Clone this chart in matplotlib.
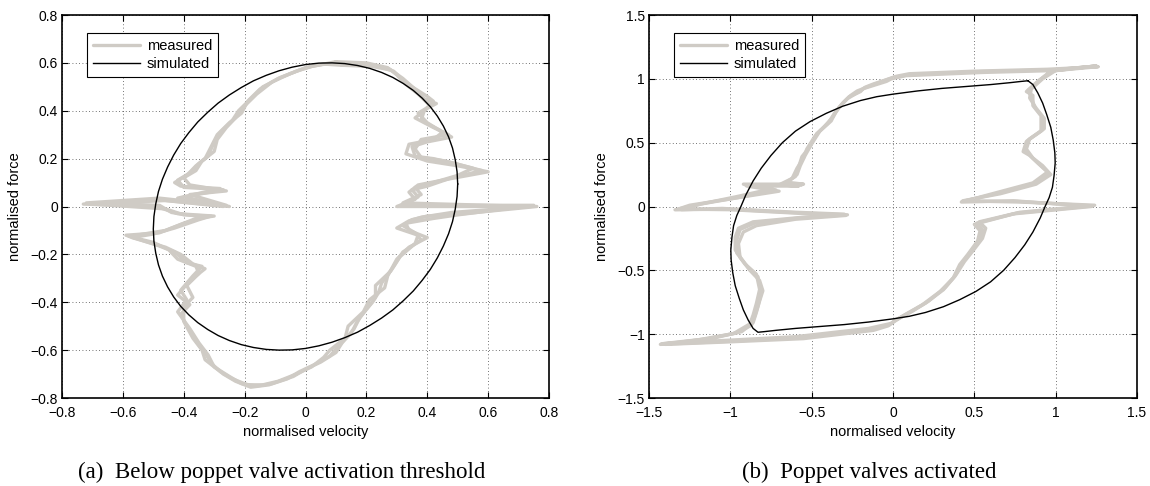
import matplotlib
matplotlib.use("Agg")
import matplotlib.pyplot as plt

# ---------------- data: panel (a) ----------------
# measured, cycle 1
a_meas_x = [0.11, 0.23, 0.29, 0.31, 0.35, 0.40, 0.42, 0.39, 0.38, 0.44, 0.48, 0.40, 0.35, 0.36, 0.42,
            0.49, 0.58, 0.48, 0.40, 0.35, 0.37, 0.33, 0.30, 0.76, 0.52, 0.40, 0.35, 0.32, 0.36, 0.38,
            0.32, 0.29, 0.25, 0.24, 0.22, 0.18, 0.16, 0.12, 0.10, 0.05, 0.0, -0.04, -0.11, -0.16, -0.21,
            -0.25, -0.30, -0.32, -0.35, -0.38, -0.42, -0.39, -0.41, -0.37, -0.34, -0.39, -0.43, -0.48,
            -0.59, -0.48, -0.42, -0.36, -0.30, -0.42, -0.49, -0.73, -0.50, -0.25, -0.40, -0.27, -0.40,
            -0.42, -0.38, -0.35, -0.32, -0.30, -0.28, -0.24, -0.22, -0.18, -0.14, -0.08, -0.02, 0.03, 0.11]
a_meas_y = [0.60, 0.59, 0.565, 0.54, 0.50, 0.46, 0.44, 0.40, 0.36, 0.32, 0.29, 0.27, 0.25, 0.21, 0.20,
            0.18, 0.15, 0.12, 0.085, 0.07, 0.04, 0.01, 0.0, 0.0, -0.03, -0.04, -0.055, -0.08, -0.11, -0.14,
            -0.19, -0.25, -0.32, -0.36, -0.40, -0.46, -0.51, -0.57, -0.61, -0.65, -0.68, -0.71, -0.74, -0.75,
            -0.74, -0.71, -0.67, -0.62, -0.57, -0.51, -0.44, -0.39, -0.35, -0.29, -0.25, -0.235, -0.19,
            -0.165, -0.12, -0.11, -0.08, -0.05, -0.04, -0.03, 0.0, 0.01, 0.03, 0.0, 0.04, 0.07, 0.08,
            0.11, 0.14, 0.18, 0.21, 0.27, 0.31, 0.36, 0.40, 0.45, 0.50, 0.54, 0.57, 0.59, 0.60]
# measured, cycle 2
a_meas2_x = [0.12, 0.22, 0.28, 0.30, 0.33, 0.37, 0.41, 0.37, 0.40, 0.45, 0.42, 0.34, 0.33, 0.40, 0.50,
             0.60, 0.45, 0.37, 0.34, 0.36, 0.31, 0.75, 0.50, 0.42, 0.33, 0.34, 0.40, 0.34, 0.30, 0.27,
             0.26, 0.21, 0.19, 0.14, 0.13, 0.08, 0.06, 0.02, -0.03, -0.09, -0.14, -0.19, -0.24, -0.28,
             -0.33, -0.34, -0.37, -0.40, -0.40, -0.37, -0.39, -0.35, -0.36, -0.42, -0.45, -0.50, -0.58,
             -0.46, -0.40, -0.33, -0.44, -0.48, -0.72, -0.48, -0.26, -0.38, -0.26, -0.38, -0.40, -0.36,
             -0.34, -0.30, -0.29, -0.26, -0.23, -0.20, -0.16, -0.11, -0.05, 0.0, 0.06, 0.12]
a_meas2_y = [0.59, 0.585, 0.57, 0.55, 0.51, 0.47, 0.42, 0.39, 0.35, 0.31, 0.28, 0.26, 0.22, 0.19, 0.17,
             0.145, 0.11, 0.09, 0.06, 0.03, 0.005, 0.005, -0.035, -0.05, -0.07, -0.10, -0.13, -0.17,
             -0.22, -0.29, -0.34, -0.39, -0.44, -0.50, -0.55, -0.60, -0.63, -0.67, -0.70, -0.73, -0.745,
             -0.745, -0.72, -0.69, -0.64, -0.60, -0.55, -0.48, -0.42, -0.38, -0.33, -0.28, -0.25, -0.22,
             -0.18, -0.15, -0.125, -0.10, -0.07, -0.045, -0.025, 0.005, 0.015, 0.035, 0.005, 0.05, 0.065,
             0.09, 0.12, 0.15, 0.19, 0.23, 0.28, 0.33, 0.37, 0.42, 0.47, 0.52, 0.555, 0.58, 0.595, 0.59]
# measured, cycle 3 (velocity, force) pairs
a_meas3 = [(0.10, 0.605), (0.20, 0.60), (0.27, 0.58), (0.32, 0.535), (0.36, 0.49), (0.39, 0.45),
           (0.43, 0.43), (0.40, 0.41), (0.36, 0.37), (0.42, 0.33), (0.47, 0.30), (0.38, 0.28),
           (0.36, 0.24), (0.38, 0.205), (0.46, 0.19), (0.55, 0.16), (0.50, 0.13), (0.42, 0.10),
           (0.36, 0.08), (0.38, 0.05), (0.32, 0.015), (0.74, 0.0), (0.48, -0.025), (0.38, -0.045),
           (0.34, -0.06), (0.30, -0.09), (0.37, -0.12), (0.36, -0.155), (0.31, -0.21), (0.28, -0.27),
           (0.23, -0.33), (0.23, -0.38), (0.20, -0.43), (0.17, -0.48), (0.15, -0.53), (0.11, -0.58),
           (0.08, -0.625), (0.03, -0.66), (-0.02, -0.69), (-0.06, -0.72), (-0.12, -0.745),
           (-0.18, -0.755), (-0.23, -0.73), (-0.27, -0.70), (-0.31, -0.655), (-0.33, -0.61),
           (-0.36, -0.56), (-0.39, -0.50), (-0.41, -0.45), (-0.38, -0.41), (-0.42, -0.37),
           (-0.38, -0.31), (-0.33, -0.26), (-0.37, -0.24), (-0.41, -0.20), (-0.46, -0.17),
           (-0.57, -0.13), (-0.50, -0.115), (-0.43, -0.09), (-0.35, -0.055), (-0.31, -0.04),
           (-0.40, -0.035), (-0.46, -0.01), (-0.70, 0.01), (-0.46, 0.025), (-0.27, 0.0),
           (-0.42, 0.035), (-0.28, 0.075), (-0.41, 0.085), (-0.43, 0.10), (-0.39, 0.13),
           (-0.36, 0.17), (-0.33, 0.20), (-0.31, 0.25), (-0.29, 0.30), (-0.25, 0.35), (-0.21, 0.39),
           (-0.19, 0.44), (-0.15, 0.49), (-0.09, 0.535), (-0.03, 0.565), (0.02, 0.585), (0.10, 0.605)]

a_sim_x = [0.500, 0.498, 0.492, 0.483, 0.470, 0.453, 0.433, 0.410, 0.383, 0.354, 0.321, 0.287, 0.250,
           0.211, 0.171, 0.129, 0.087, 0.044, 0.000, -0.044, -0.087, -0.129, -0.171, -0.211, -0.250,
           -0.287, -0.321, -0.354, -0.383, -0.410, -0.433, -0.453, -0.470, -0.483, -0.492, -0.498,
           -0.500, -0.498, -0.492, -0.483, -0.470, -0.453, -0.433, -0.410, -0.383, -0.354, -0.321,
           -0.287, -0.250, -0.211, -0.171, -0.129, -0.087, -0.044, 0.000, 0.044, 0.087, 0.129, 0.171,
           0.211, 0.250, 0.287, 0.321, 0.354, 0.383, 0.410, 0.433, 0.453, 0.470, 0.483, 0.492, 0.498,
           0.500]
a_sim_y = [0.094, 0.145, 0.195, 0.244, 0.291, 0.336, 0.378, 0.417, 0.453, 0.485, 0.514, 0.539, 0.560,
           0.577, 0.589, 0.597, 0.600, 0.599, 0.593, 0.582, 0.567, 0.548, 0.525, 0.497, 0.466, 0.432,
           0.394, 0.353, 0.309, 0.263, 0.215, 0.165, 0.114, 0.063, 0.011, -0.042,
           -0.094, -0.145, -0.195, -0.244, -0.291, -0.336, -0.378, -0.417, -0.453, -0.485, -0.514,
           -0.539, -0.560, -0.577, -0.589, -0.597, -0.600, -0.599, -0.593, -0.582, -0.567, -0.548,
           -0.525, -0.497, -0.466, -0.432, -0.394, -0.353, -0.309, -0.263, -0.215, -0.165, -0.114,
           -0.063, -0.011, 0.042, 0.094]

# ---------------- data: panel (b) ----------------
b_meas_x = [1.25, 0.985, 0.54, 0.09, 0.0, -0.045, -0.13, -0.18, -0.20, -0.27, -0.31, -0.36, -0.40,
            -0.47, -0.51, -0.56, -0.58, -0.60, -0.67, -0.56, -0.91, -0.72, -0.95, -1.21, -1.34, -1.03,
            -0.58, -0.28, -0.58, -0.85, -0.94, -0.96, -0.96, -0.895, -0.83, -0.81, -0.83, -0.85, -0.87,
            -0.96, -1.16, -1.43, -1.03, -0.58, -0.134, -0.02, 0.02, 0.09, 0.20, 0.31, 0.38, 0.425, 0.47,
            0.537, 0.55, 0.515, 0.76, 1.23, 0.76, 0.425, 0.65, 0.87, 0.96, 0.90, 0.85, 0.81, 0.83, 0.92,
            0.92, 0.87, 0.85, 0.83, 0.90, 0.985, 1.25]
b_meas_y = [1.10, 1.07, 1.057, 1.03, 1.01, 0.99, 0.95, 0.926, 0.90, 0.86, 0.81, 0.73, 0.65, 0.57, 0.47,
            0.39, 0.31, 0.235, 0.18, 0.17, 0.17, 0.13, 0.07, 0.013, -0.026, -0.02, -0.05, -0.065, -0.09,
            -0.13, -0.18, -0.26, -0.365, -0.47, -0.55, -0.68, -0.78, -0.86, -0.93, -0.99, -1.04, -1.08,
            -1.057, -1.03, -0.965, -0.926, -0.887, -0.835, -0.757, -0.652, -0.548, -0.443, -0.365, -0.26,
            -0.18, -0.13, -0.052, 0.005, 0.04, 0.04, 0.104, 0.18, 0.26, 0.33, 0.39, 0.44, 0.52, 0.60, 0.70,
            0.78, 0.86, 0.91, 0.99, 1.07, 1.10]
b_meas2_x = [1.26, 0.95, 0.50, 0.10, 0.02, -0.06, -0.12, -0.17, -0.22, -0.28, -0.33, -0.37, -0.42,
             -0.48, -0.53, -0.55, -0.59, -0.62, -0.70, -0.58, -0.90, -0.70, -1.00, -1.25, -1.32, -1.00,
             -0.55, -0.29, -0.60, -0.84, -0.92, -0.95, -0.94, -0.88, -0.82, -0.80, -0.82, -0.84, -0.86,
             -0.93, -1.10, -1.42, -1.05, -0.60, -0.15, -0.01, 0.04, 0.12, 0.22, 0.32, 0.39, 0.44, 0.49,
             0.55, 0.57, 0.53, 0.78, 1.24, 0.78, 0.43, 0.66, 0.88, 0.97, 0.92, 0.86, 0.82, 0.84, 0.93,
             0.93, 0.88, 0.84, 0.85, 0.92, 1.00, 1.26]
b_meas2_y = [1.095, 1.075, 1.06, 1.04, 1.02, 0.985, 0.96, 0.935, 0.89, 0.845, 0.78, 0.70, 0.63, 0.55,
             0.45, 0.38, 0.30, 0.22, 0.17, 0.16, 0.16, 0.12, 0.06, 0.01, -0.02, -0.025, -0.055, -0.07,
             -0.10, -0.15, -0.20, -0.29, -0.40, -0.50, -0.58, -0.66, -0.74, -0.83, -0.91, -0.98, -1.03,
             -1.075, -1.05, -1.02, -0.955, -0.915, -0.875, -0.82, -0.74, -0.635, -0.53, -0.43, -0.35,
             -0.25, -0.17, -0.12, -0.045, 0.01, 0.035, 0.045, 0.10, 0.175, 0.25, 0.32, 0.38, 0.45, 0.53,
             0.61, 0.69, 0.77, 0.85, 0.92, 1.00, 1.065, 1.095]
b_meas3 = [(1.24, 1.10), (1.00, 1.065), (0.55, 1.05), (0.08, 1.025), (-0.01, 1.00), (-0.04, 0.98),
           (-0.14, 0.94), (-0.19, 0.92), (-0.22, 0.905), (-0.26, 0.87), (-0.30, 0.82), (-0.35, 0.745),
           (-0.38, 0.67), (-0.45, 0.59), (-0.50, 0.49), (-0.54, 0.40), (-0.57, 0.32), (-0.59, 0.25),
           (-0.65, 0.19), (-0.55, 0.175), (-0.92, 0.175), (-0.74, 0.14), (-0.97, 0.075), (-1.18, 0.02),
           (-1.30, -0.025), (-1.05, -0.015), (-0.60, -0.045), (-0.30, -0.06), (-0.56, -0.085),
           (-0.86, -0.12), (-0.95, -0.17), (-0.97, -0.24), (-0.97, -0.34), (-0.91, -0.45),
           (-0.84, -0.53), (-0.82, -0.65), (-0.84, -0.76), (-0.86, -0.85), (-0.88, -0.92),
           (-0.98, -0.995), (-1.20, -1.045), (-1.40, -1.08), (-1.00, -1.06), (-0.55, -1.035),
           (-0.12, -0.97), (-0.03, -0.935), (0.01, -0.895), (0.08, -0.845), (0.18, -0.77),
           (0.29, -0.665), (0.37, -0.56), (0.41, -0.455), (0.46, -0.375), (0.52, -0.27),
           (0.535, -0.19), (0.50, -0.14), (0.74, -0.058), (1.22, 0.0), (0.74, 0.045), (0.42, 0.035),
           (0.64, 0.11), (0.86, 0.185), (0.95, 0.27), (0.89, 0.34), (0.84, 0.40), (0.80, 0.43),
           (0.82, 0.51), (0.91, 0.59), (0.91, 0.71), (0.86, 0.79), (0.86, 0.87), (0.82, 0.90),
           (0.89, 0.98), (0.97, 1.06), (1.24, 1.10)]

b_sim_x = [0.83, 0.86, 0.89, 0.92, 0.945, 0.97, 0.985, 0.995, 0.997, 0.99, 0.98, 0.96, 0.935, 0.905,
           0.86, 0.81, 0.75, 0.68, 0.60, 0.51, 0.41, 0.31, 0.20, 0.10, 0.0, -0.15, -0.30, -0.45, -0.60,
           -0.72, -0.79,
           -0.83, -0.86, -0.89, -0.92, -0.945, -0.97, -0.985, -0.995, -0.997, -0.99, -0.98, -0.96, -0.935,
           -0.905, -0.86, -0.81, -0.75, -0.68, -0.60, -0.51, -0.41, -0.31, -0.20, -0.10, 0.0, 0.15, 0.30,
           0.45, 0.60, 0.72, 0.79, 0.83]
b_sim_y = [0.985, 0.955, 0.89, 0.81, 0.72, 0.62, 0.52, 0.42, 0.34, 0.24, 0.15, 0.07, 0.0, -0.09, -0.20,
           -0.30, -0.40, -0.50, -0.59, -0.665, -0.73, -0.785, -0.83, -0.86, -0.88, -0.905, -0.925, -0.94,
           -0.955, -0.97, -0.98,
           -0.985, -0.955, -0.89, -0.81, -0.72, -0.62, -0.52, -0.42, -0.34, -0.24, -0.15, -0.07, 0.0, 0.09,
           0.20, 0.30, 0.40, 0.50, 0.59, 0.665, 0.73, 0.785, 0.83, 0.86, 0.88, 0.905, 0.925, 0.94, 0.955,
           0.97, 0.98, 0.985]

a_ticks = [-0.8, -0.6, -0.4, -0.2, 0, 0.2, 0.4, 0.6, 0.8]
a_ticklabels = ["\u22120.8", "\u22120.6", "\u22120.4", "\u22120.2", "0", "0.2", "0.4", "0.6", "0.8"]
b_ticks = [-1.5, -1, -0.5, 0, 0.5, 1, 1.5]
b_ticklabels = ["\u22121.5", "\u22121", "\u22120.5", "0", "0.5", "1", "1.5"]

captions = ["(a)  Below poppet valve activation threshold", "(b)  Poppet valves activated"]

MEAS_COLOR = "#cfcbc5"
plt.rcParams["font.family"] = ["Liberation Sans", "DejaVu Sans"]
plt.rcParams["font.size"] = 10

fig = plt.figure(figsize=(11.5, 4.86), dpi=100)
W, H = 1150.0, 486.0
ax_a = fig.add_axes([62 / W, 1 - 398 / H, 487 / W, 383 / H])
ax_b = fig.add_axes([649 / W, 1 - 398 / H, 488 / W, 383 / H])


def style(ax, ticks, labels, lim):
    ax.set_xlim(lim)
    ax.set_ylim(lim)
    ax.set_xticks(ticks)
    ax.set_xticklabels(labels)
    ax.set_yticks(ticks)
    ax.set_yticklabels(labels)
    ax.tick_params(direction="in", length=4, width=0.8, top=True, right=True,
                   labelsize=10, colors="black")
    ax.tick_params(axis="x", pad=6)
    ax.tick_params(axis="y", pad=3)
    ax.grid(True, color="#444444", linestyle=(0, (1, 3)), linewidth=0.6)
    for s in ax.spines.values():
        s.set_linewidth(1.2)
    ax.set_xlabel("normalised velocity", fontsize=10.5, labelpad=3)
    ax.set_ylabel("normalised force", fontsize=10.5, labelpad=6)


MEAS_KW = dict(color=MEAS_COLOR, lw=2.4, solid_joinstyle="round", solid_capstyle="round")

ax_a.plot(a_meas_x, a_meas_y, label="measured", **MEAS_KW)
ax_a.plot(a_meas2_x, a_meas2_y, **MEAS_KW)
ax_a.plot([p[0] for p in a_meas3], [p[1] for p in a_meas3], **MEAS_KW)
ax_a.plot(a_sim_x, a_sim_y, color="black", lw=1.0, label="simulated")
style(ax_a, a_ticks, a_ticklabels, (-0.8, 0.8))

ax_b.plot(b_meas_x, b_meas_y, label="measured", **MEAS_KW)
ax_b.plot(b_meas2_x, b_meas2_y, **MEAS_KW)
ax_b.plot([p[0] for p in b_meas3], [p[1] for p in b_meas3], **MEAS_KW)
ax_b.plot(b_sim_x, b_sim_y, color="black", lw=1.0, label="simulated")
style(ax_b, b_ticks, b_ticklabels, (-1.5, 1.5))

for ax in (ax_a, ax_b):
    leg = ax.legend(loc="upper left", bbox_to_anchor=(25 / 487, 1 - 18 / 383), borderaxespad=0,
                    fancybox=False, framealpha=1, edgecolor="black", handlelength=3.2,
                    fontsize=10.5, borderpad=0.4, labelspacing=0.3, handletextpad=0.5)
    leg.get_frame().set_linewidth(0.8)

fig.text(282 / W, 1 - 472 / H, captions[0], ha="center", va="center",
         family=["Liberation Serif", "DejaVu Serif"], fontsize=16.5)
fig.text(869 / W, 1 - 472 / H, captions[1], ha="center", va="center",
         family=["Liberation Serif", "DejaVu Serif"], fontsize=16.5)

fig.savefig("out.png", dpi=100)
